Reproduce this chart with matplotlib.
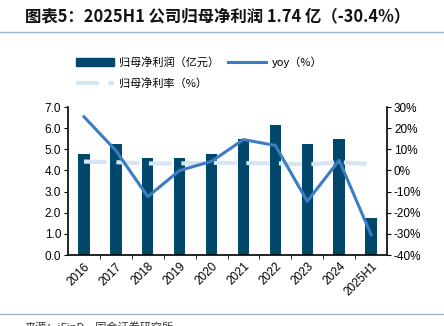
import matplotlib
matplotlib.use("Agg")
import matplotlib.pyplot as plt
from matplotlib.lines import Line2D
from matplotlib.patches import Patch

plt.rcParams['font.family'] = ['Noto Sans CJK SC', 'DejaVu Sans']

categories = ["2016", "2017", "2018", "2019", "2020", "2021", "2022", "2023", "2024", "2025H1"]
profit = [4.80, 5.25, 4.60, 4.60, 4.80, 5.50, 6.15, 5.25, 5.50, 1.74]
yoy = [25.4, 9.4, -12.4, 0.0, 4.3, 14.6, 11.8, -14.6, 4.8, -30.4]
margin = [4.2, 3.9, 3.3, 3.3, 3.6, 3.5, 3.4, 2.8, 3.9, 3.0]
left_ticks = [0, 1, 2, 3, 4, 5, 6, 7]
right_ticks = [-40, -30, -20, -10, 0, 10, 20, 30]

bar_c = "#00476E"
yoy_c = "#3B7DC0"
mar_c = "#D7E6F3"
tick_font = 'Liberation Sans'

fig = plt.figure(figsize=(4.44, 3.26), dpi=100)
W, H = 444, 326
ax = fig.add_axes([68 / W, 1 - 255 / H, (387 - 68) / W, (255 - 107) / H])
ax2 = ax.twinx()

x = list(range(len(categories)))
ax.bar(x, profit, width=0.36, color=bar_c, zorder=2)
ax.set_ylim(0, 7)
ax.set_xlim(-0.5, len(categories) - 0.5)
ax.set_yticks(left_ticks)
ax.set_yticklabels([f"{v:.1f}" for v in left_ticks], fontsize=8.5, family=tick_font)
ax.set_xticks(x)
ax.set_xticklabels(categories, rotation=45, ha='right', rotation_mode='anchor', fontsize=8.5, family=tick_font)
ax.tick_params(axis='x', length=0, pad=4)
ax.set_xticks([i + 0.5 for i in x[:-1]], minor=True)
ax.tick_params(axis='x', which='minor', length=3, direction='out', color='black')
ax.tick_params(axis='y', length=3, direction='out', pad=2)

ax2.plot(x, margin, color=mar_c, lw=3, dashes=(5.5, 2.3), zorder=3)
ax2.plot(x, yoy, color=yoy_c, lw=2.2, zorder=4)
ax2.set_ylim(-40, 30)
ax2.set_yticks(right_ticks)
ax2.set_yticklabels([f"{v}%" for v in right_ticks], fontsize=8.5, family=tick_font)
ax2.tick_params(axis='y', length=3, direction='out', pad=2)

for a in (ax, ax2):
    a.spines['top'].set_visible(False)
for s in ('left', 'bottom'):
    ax.spines[s].set_linewidth(1.2)
ax.spines['right'].set_visible(False)
ax2.spines['left'].set_visible(False)
ax2.spines['bottom'].set_visible(False)
ax2.spines['right'].set_linewidth(1.2)

# title
fig.text(25 / W, 1 - 16 / H, "图表5：2025H1 公司归母净利润 1.74 亿（-30.4%）", fontsize=11.8,
         fontweight='bold', va='center', ha='left', color='#111111')
fig.add_artist(Line2D([0, 1], [1 - 32 / H, 1 - 32 / H], color="#9DB8CC", lw=1))
fig.add_artist(Line2D([0, 1], [1 - 314 / H, 1 - 314 / H], color="#9DB8CC", lw=1))

# legend (column-major fill: bar, margin | yoy)
handles = [Patch(color=bar_c), Line2D([], [], color=mar_c, lw=3, dashes=(5.5, 2.3)),
           Line2D([], [], color=yoy_c, lw=2.2)]
labels = ["归母净利润（亿元）", "归母净利率（%）", "yoy（%）"]
fig.legend(handles, labels, ncol=2, loc='upper left', bbox_to_anchor=(66 / W, 1 - 46 / H),
           frameon=False, fontsize=8, handlelength=3.4, handleheight=0.7, columnspacing=0.8,
           labelspacing=0.9, handletextpad=0.5)

fig.text(25 / W, 1 - 322 / H, "来源：iFinD，国金证券研究所", fontsize=8, va='top', ha='left', color='#333333')

fig.savefig("out.png", dpi=100)
